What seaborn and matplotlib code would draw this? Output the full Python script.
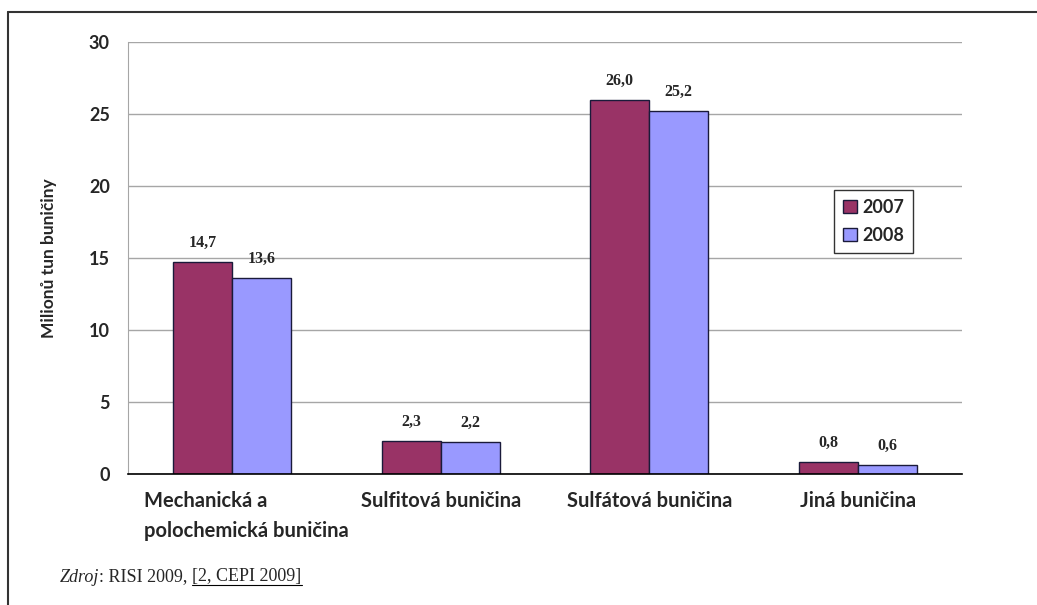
import matplotlib
matplotlib.use("Agg")
import matplotlib.pyplot as plt
import seaborn as sns
import pandas as pd
import numpy as np

categories = ["Mechanická a\npolochemická buničina", "Sulfitová buničina",
              "Sulfátová buničina", "Jiná buničina"]
years = ["2007", "2008"]
values_2007 = [14.7, 2.3, 26.0, 0.8]
values_2008 = [13.6, 2.2, 25.2, 0.6]
y_ticks = [0, 5, 10, 15, 20, 25, 30]

df = pd.DataFrame({
    "kategorie": categories * 2,
    "rok": [years[0]] * 4 + [years[1]] * 4,
    "hodnota": values_2007 + values_2008,
})

sns.set_style("white")
plt.rcParams["font.family"] = ["Lato", "DejaVu Sans"]

fig = plt.figure(figsize=(10.37, 6.05), dpi=100)
ax = fig.add_axes([128 / 1037, 1 - 474 / 605, (962 - 128) / 1037, (474 - 42) / 605])

palette = {"2007": "#993366", "2008": "#9999FF"}
sns.barplot(data=df, x="kategorie", y="hodnota", hue="rok", order=categories,
            hue_order=years, palette=palette, width=0.566, dodge=True,
            edgecolor="#1a1a3a", linewidth=1.0, saturation=1, ax=ax, legend=True)

ax.set_xlim(-0.5, 3.5)
ax.set_ylim(0, 30)
ax.set_yticks(y_ticks)
ax.yaxis.grid(True, color="#a6a6a6", linewidth=1.0)
ax.set_axisbelow(True)
ax.tick_params(axis="y", length=6, width=1, color="#a6a6a6", pad=7,
               labelsize=13)
for t in ax.get_yticklabels():
    t.set_fontweight("bold")

ax.set_xticks(range(len(categories)))
ax.set_xticklabels([])
ax.tick_params(axis="x", which="major", length=0)
ax.set_xticks(np.arange(-0.5, 4, 1.0), minor=True)
ax.tick_params(axis="x", which="minor", length=7, width=1, color="black")

for i, lab in enumerate(categories):
    dx = 0.07 if i == 0 else 0.0
    ax.text(i + dx, -1.15, lab, ha="center", va="top", ma="left",
            fontsize=14.5, fontweight="bold", linespacing=1.65,
            transform=ax.transData)

for side in ["top", "right"]:
    ax.spines[side].set_visible(False)
ax.spines["left"].set_color("#a6a6a6")
ax.spines["bottom"].set_color("black")
ax.spines["bottom"].set_linewidth(1.2)

ax.set_xlabel("")
ax.set_ylabel("Milionů tun buničiny", fontsize=12.5, fontweight="bold", labelpad=23)

for container in ax.containers:
    labels = [f"{v:.1f}".replace(".", ",") for v in container.datavalues]
    ax.bar_label(container, labels=labels, padding=8, fontsize=11.5,
                 fontweight="bold", family="Liberation Serif")

leg = ax.legend(loc="upper left", bbox_to_anchor=((834 - 128) / 834, (474 - 190) / 432),
                frameon=True, fancybox=False, edgecolor="black", fontsize=13,
                handlelength=0.75, handleheight=0.75, handletextpad=0.3,
                borderpad=0.5, labelspacing=0.6, borderaxespad=0)
leg.get_frame().set_linewidth(1.0)
for t in leg.get_texts():
    t.set_fontweight("bold")

# frame lines along the top and left edges of the figure
fig.add_artist(plt.Line2D([8 / 1037, 1.0], [1 - 12 / 605, 1 - 12 / 605],
                          color="#333333", linewidth=1.5, transform=fig.transFigure))
fig.add_artist(plt.Line2D([8 / 1037, 8 / 1037], [0, 1 - 12 / 605],
                          color="#333333", linewidth=1.5, transform=fig.transFigure))

src_y = 1 - 577 / 605
fs_src = 13
t1 = fig.text(60 / 1037, src_y, "Zdroj", fontsize=fs_src, style="italic",
              family="Liberation Serif", va="center")
fig.canvas.draw()
bb = t1.get_window_extent()
t2 = fig.text(bb.x1 / 1037, src_y, ": RISI 2009, ", fontsize=fs_src,
              family="Liberation Serif", va="center")
fig.canvas.draw()
bb2 = t2.get_window_extent()
t3 = fig.text(bb2.x1 / 1037, src_y, "[2, CEPI 2009]", fontsize=fs_src,
              family="Liberation Serif", va="center")
fig.canvas.draw()
bb3 = t3.get_window_extent()
fig.add_artist(plt.Line2D([bb3.x0 / 1037, bb3.x1 / 1037],
                          [(bb3.y0 + 1) / 605, (bb3.y0 + 1) / 605],
                          color="black", linewidth=0.8, transform=fig.transFigure))

fig.savefig("out.png", dpi=100)
